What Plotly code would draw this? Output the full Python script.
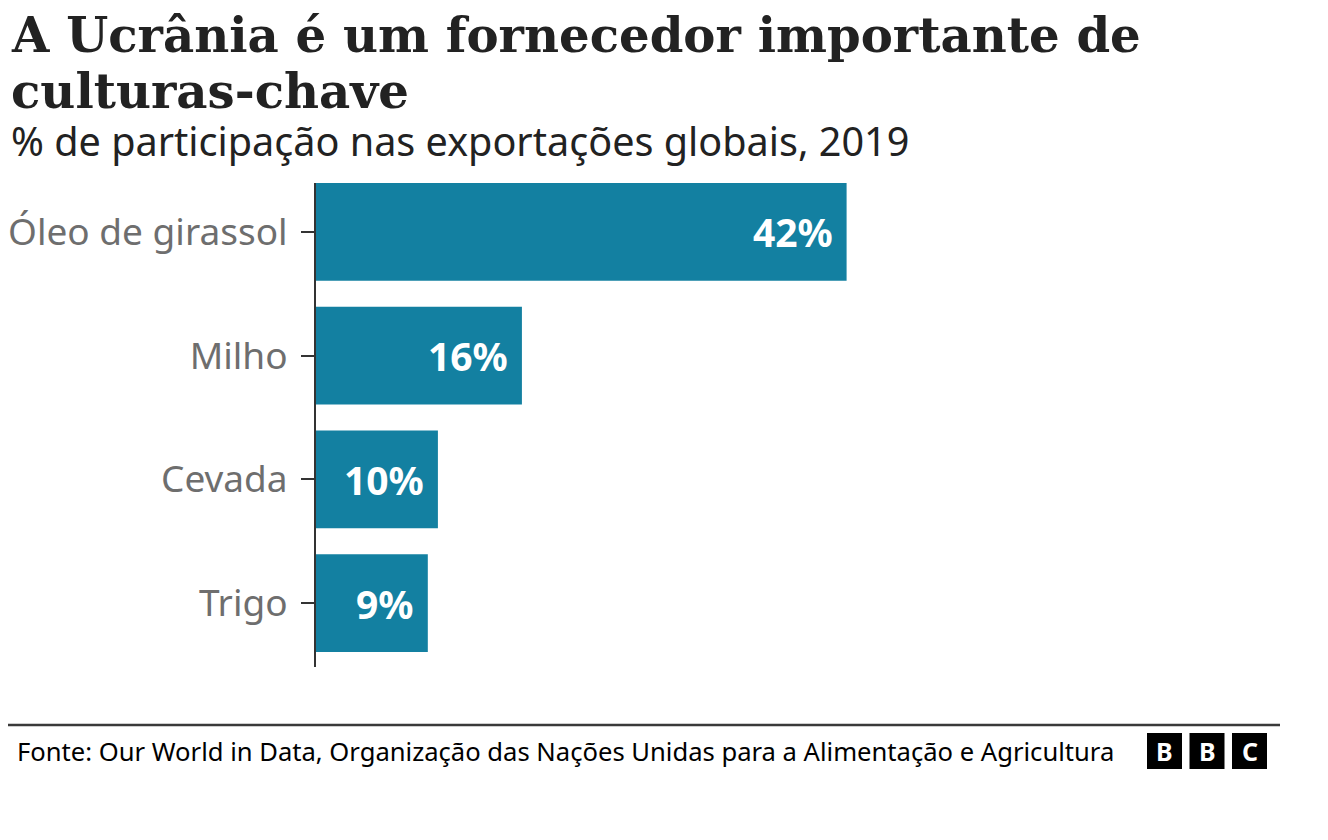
import plotly.graph_objects as go

# dados
culturas = ['Óleo de girassol', 'Milho', 'Cevada', 'Trigo']
participacao = [42, 16.3, 9.65, 8.85]
rotulos = ['42%', '16%', '10%', '9%']

titulo1 = 'A Ucrânia é um fornecedor importante de'
titulo2 = 'culturas-chave'
subtitulo = '% de participação nas exportações globais, 2019'
fonte = 'Fonte: Our World in Data, Organização das Nações Unidas para a Alimentação e Agricultura'

# a pagina tem 8px de margem, por isso tudo vai 8px para tras
OFF = 8
W, H = 1328, 840
L, T = 316 - OFF, 183 - OFF
PB = 667 - OFF          # fundo da area do grafico
B = H - PB
PW = 758
PH = PB - T
R = W - L - PW


def px(x):
    return (x - OFF - L) / PW


def py(y):
    return (PB - (y - OFF)) / PH


fig = go.Figure()
fig.add_trace(go.Bar(
    x=participacao, y=culturas, orientation='h',
    marker=dict(color='#1380A1', line=dict(width=0)),
    hoverinfo='skip',
))

anns = []
for c, v, r in zip(culturas, participacao, rotulos):
    anns.append(dict(x=v, y=c, xref='x', yref='y', text='<b>%s</b>' % r,
                     xanchor='right', yanchor='middle', xshift=-12, showarrow=False,
                     font=dict(family='Noto Sans', size=39, color='white')))

anns.append(dict(x=px(9), y=py(35), xref='paper', yref='paper', text='<b>%s</b>' % titulo1,
                 xanchor='left', yanchor='middle', showarrow=False,
                 font=dict(family='DejaVu Serif', size=48.2, color='#222222')))
anns.append(dict(x=px(9), y=py(91), xref='paper', yref='paper', text='<b>%s</b>' % titulo2,
                 xanchor='left', yanchor='middle', showarrow=False,
                 font=dict(family='DejaVu Serif', size=48.2, color='#222222')))
anns.append(dict(x=px(9), y=py(141), xref='paper', yref='paper', text=subtitulo,
                 xanchor='left', yanchor='middle', showarrow=False,
                 font=dict(family='Noto Sans', size=39.6, color='#222222')))
anns.append(dict(x=px(15), y=py(751), xref='paper', yref='paper', text=fonte,
                 xanchor='left', yanchor='middle', showarrow=False,
                 font=dict(family='Noto Sans', size=25.6, color='#000000')))

shapes = [dict(type='line', xref='paper', yref='paper', x0=px(OFF), x1=px(1280),
               y0=py(725), y1=py(725), line=dict(color='#3a3a3a', width=2.5))]

# logo BBC
for i, letra in enumerate('BBC'):
    x0 = 1147 + i * 42.5
    shapes.append(dict(type='rect', xref='paper', yref='paper',
                       x0=px(x0), x1=px(x0 + 35), y0=py(769), y1=py(733),
                       fillcolor='#000000', line=dict(width=0)))
    anns.append(dict(x=px(x0 + 17.5), y=py(751), xref='paper', yref='paper',
                     text='<b>%s</b>' % letra, showarrow=False,
                     xanchor='center', yanchor='middle',
                     font=dict(family='Noto Sans', size=25, color='white')))

fig.update_layout(
    width=W, height=H,
    margin=dict(l=L, r=R, t=T, b=B, pad=0, autoexpand=False),
    paper_bgcolor='white', plot_bgcolor='white',
    showlegend=False,
    bargap=0.21,
    annotations=anns,
    shapes=shapes,
    xaxis=dict(range=[0, 60], visible=False, fixedrange=True, automargin=False),
    yaxis=dict(
        categoryorder='array', categoryarray=culturas,
        autorange=False, range=[3.516, -0.395],
        automargin=False,
        showline=True, linecolor='#333333', linewidth=2,
        ticks='outside', ticklen=13, tickwidth=2, tickcolor='#333333',
        ticklabelstandoff=6,
        tickfont=dict(family='Noto Sans', size=37, color='#6e6e6e'),
        showgrid=False, zeroline=False, fixedrange=True,
    ),
)

fig.write_html('out.html')
